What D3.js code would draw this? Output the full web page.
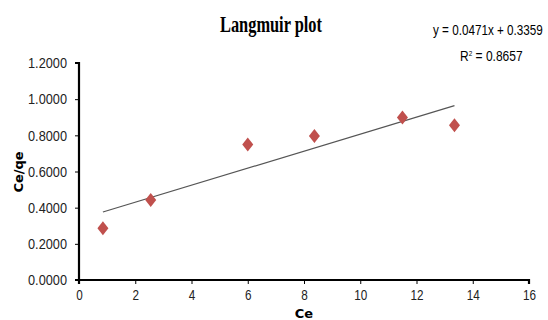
<!DOCTYPE html>
<html>
<head>
<meta charset="utf-8">
<script src="https://cdn.jsdelivr.net/npm/d3@7"></script>
<style>
  body { margin: 0; background: #fff; }
  text { font-family: "Liberation Sans", Arial, sans-serif; }
</style>
</head>
<body>
<div id="chart"></div>
<script>
// data
var ceValues = [0.85, 2.55, 6.0, 8.37, 11.5, 13.35];
var ceqeValues = [0.286, 0.442, 0.75, 0.797, 0.899, 0.856];
var xTicks = [0, 2, 4, 6, 8, 10, 12, 14, 16];
var yTicks = [0, 0.2, 0.4, 0.6, 0.8, 1.0, 1.2];
var slope = 0.0471, intercept = 0.3359;

var svg = d3.select("#chart").append("svg").attr("width", 548).attr("height", 320);

var x = d3.scaleLinear().domain([0, 16]).range([79, 529]);
var y = d3.scaleLinear().domain([0, 1.2]).range([280, 63]);

// squeeze a text to look like the narrow office font
function squeeze(sel, k) {
  sel.each(function(){
    var w = this.getComputedTextLength();
    d3.select(this).attr("textLength", w * k).attr("lengthAdjust", "spacingAndGlyphs");
  });
}

// title
svg.append("text").attr("x", 271).attr("y", 32)
  .attr("text-anchor", "middle")
  .style("font-family", "'Liberation Serif', 'Times New Roman', serif")
  .style("font-weight", "bold").style("font-size", "23px")
  .attr("textLength", 102).attr("lengthAdjust", "spacingAndGlyphs")
  .text("Langmuir plot");

// equation and R squared, narrowed with a scale
svg.append("g").attr("transform", "translate(433,35) scale(0.78,1)")
  .append("text").style("font-size", "15px")
  .text("y = 0.0471x + 0.3359");
var r2 = svg.append("g").attr("transform", "translate(460,61) scale(0.8,1)")
  .append("text").style("font-size", "15px");
r2.append("tspan").text("R");
r2.append("tspan").attr("dy", -5).style("font-size", "8px").text("2");
r2.append("tspan").attr("dy", 5).text(" = 0.8657");

// axes
var yAxis = svg.append("g").attr("transform", "translate(79,0)")
  .call(d3.axisLeft(y).tickValues(yTicks).tickSize(4).tickPadding(8).tickFormat(d3.format(".4f")));
var xAxis = svg.append("g").attr("transform", "translate(0,280)")
  .call(d3.axisBottom(x).tickValues(xTicks).tickSize(4).tickPadding(5));

[xAxis, yAxis].forEach(function(a){
  a.select(".domain").attr("stroke", "#000").attr("stroke-width", 2.2);
  a.selectAll(".tick line").attr("stroke", "#000");
  a.selectAll(".tick text").style("font-size", "15px").attr("fill", "#222")
    .style("font-family", "'Liberation Sans', Arial, sans-serif");
});
yAxis.selectAll(".tick text").attr("x", -12).attr("textLength", 39).attr("lengthAdjust", "spacingAndGlyphs");
squeeze(xAxis.selectAll(".tick text"), 0.78);
yAxis.select(".domain").attr("d", "M-4," + y(1.2) + "H0V" + y(0) + "H-4");
xAxis.select(".domain").attr("d", "M" + x(0) + ",4V0H" + x(16) + "V4");

// axis titles
svg.append("text").attr("transform", "translate(23,172) rotate(-90)")
  .attr("text-anchor", "middle")
  .style("font-family", "'DejaVu Sans', Verdana, sans-serif")
  .style("font-weight", "bold").style("font-size", "13px")
  .text("Ce/qe");
svg.append("text").attr("x", 304).attr("y", 318)
  .attr("text-anchor", "middle")
  .style("font-family", "'DejaVu Sans', Verdana, sans-serif")
  .style("font-weight", "bold").style("font-size", "13px")
  .text("Ce");

// trendline
var xMin = d3.min(ceValues), xMax = d3.max(ceValues);
svg.append("line")
  .attr("x1", x(xMin)).attr("y1", y(slope * xMin + intercept))
  .attr("x2", x(xMax)).attr("y2", y(slope * xMax + intercept))
  .attr("stroke", "#555").attr("stroke-width", 1.2);

// markers
var diamond = "M0,-7L5.5,0L0,7L-5.5,0Z";
svg.selectAll(".pt").data(ceValues).enter().append("path")
  .attr("class", "pt")
  .attr("d", diamond)
  .attr("transform", function(d, i){ return "translate(" + x(d) + "," + y(ceqeValues[i]) + ")"; })
  .attr("fill", "#c0504d");
</script>
</body>
</html>
